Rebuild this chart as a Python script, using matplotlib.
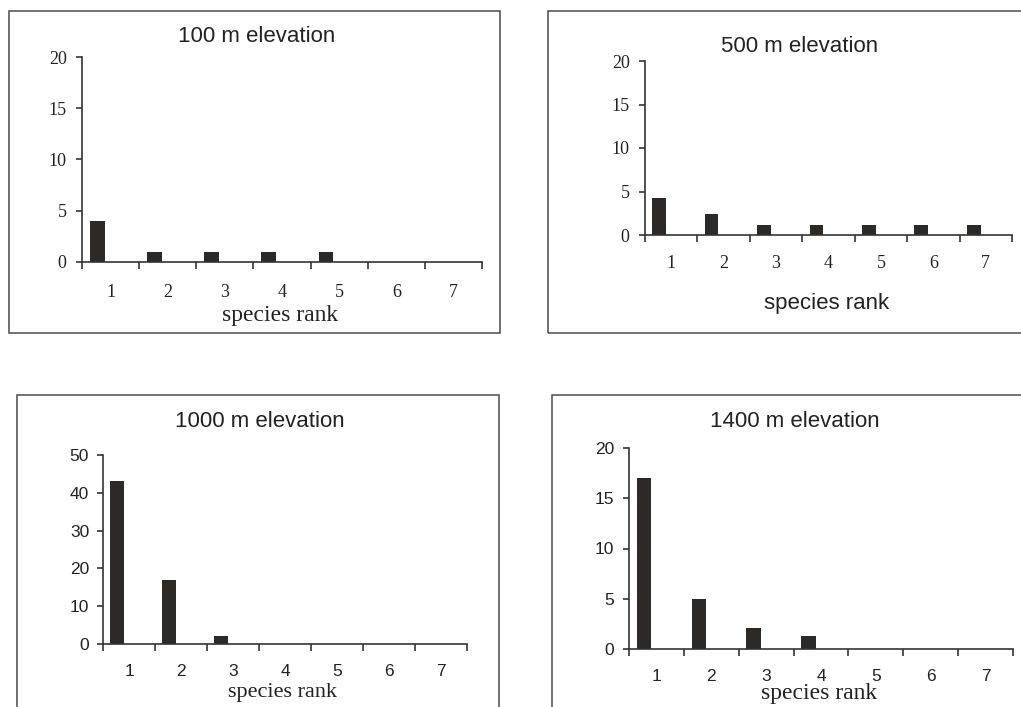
import matplotlib
matplotlib.use("Agg")
import matplotlib.pyplot as plt
from matplotlib.patches import Rectangle

W, H = 1021, 707

ranks = [1, 2, 3, 4, 5, 6, 7]
rank_labels = ["1", "2", "3", "4", "5", "6", "7"]
titles = ["100 m elevation", "500 m elevation", "1000 m elevation", "1400 m elevation"]
xlabel = "species rank"
abund_100 = [4, 1, 1, 1, 1, 0, 0]
abund_500 = [4.2, 2.4, 1.1, 1.1, 1.1, 1.1, 1.1]
abund_1000 = [43, 17, 2, 0, 0, 0, 0]
abund_1400 = [17, 5, 2.1, 1.3, 0, 0, 0]
yticks_small = [0, 5, 10, 15, 20]
yticks_big = [0, 10, 20, 30, 40, 50]

SERIF = "Liberation Serif"
SANS = "Liberation Sans"
BAR = "#2d2927"
INK = "#333333"

# layout in pixels
panels = [
    dict(vals=abund_100, title=titles[0], yt=yticks_small, ax=(82, 482, 262, 57),
         box=(9, 11, 500, 333), tpos=(257, 36), xlpos=(280, 316),
         tickfont=SERIF, tfs=13, xlfont=SERIF, xlfs=17, xpad=12, ypad=7),
    dict(vals=abund_500, title=titles[1], yt=yticks_small, ax=(645, 1012, 235, 61),
         box=(548, 11, 1040, 333), tpos=(800, 47), xlpos=(827, 303),
         tickfont=SERIF, tfs=13, xlfont=SANS, xlfs=16, xpad=10.5, ypad=7),
    dict(vals=abund_1000, title=titles[2], yt=yticks_big, ax=(103, 467, 644, 455),
         box=(17, 395, 499, 740), tpos=(260, 422), xlpos=(282, 693),
         tickfont=SANS, tfs=12.5, xlfont=SERIF, xlfs=16, xpad=11, ypad=6),
    dict(vals=abund_1400, title=titles[3], yt=yticks_small, ax=(629, 1013, 649, 448),
         box=(552, 395, 1040, 740), tpos=(795, 422), xlpos=(819, 693),
         tickfont=SANS, tfs=12.5, xlfont=SERIF, xlfs=17, xpad=10.5, ypad=6.5),
]

fig = plt.figure(figsize=(W / 100, H / 100), dpi=100)
fig.patch.set_facecolor("white")

def fx(x):
    return x / W

def fy(y):
    return 1 - y / H

for p in panels:
    bx0, by0, bx1, by1 = p["box"]
    fig.patches.append(Rectangle((fx(bx0), fy(by1)), fx(bx1) - fx(bx0), fy(by0) - fy(by1),
                                 transform=fig.transFigure, fill=False,
                                 edgecolor="#4a4a4a", linewidth=1.1))
    l, r, b, t = p["ax"]
    ax = fig.add_axes([fx(l), fy(b), fx(r) - fx(l), fy(t) - fy(b)])
    ax.patch.set_alpha(0)
    ax.bar([k - 0.23 for k in ranks], p["vals"], width=0.26, color=BAR, zorder=1)
    ax.set_xlim(0.5, 7.5)
    ax.set_ylim(0, p["yt"][-1])
    ax.set_yticks(p["yt"])
    ax.set_xticks([k + 0.5 for k in range(0, 8)])
    ax.set_xticklabels([])
    ax.set_xticks(ranks, minor=True)
    ax.set_xticklabels(rank_labels, minor=True)
    for s in ["top", "right"]:
        ax.spines[s].set_visible(False)
    for s in ["left", "bottom"]:
        ax.spines[s].set_color(INK)
        ax.spines[s].set_linewidth(1.2)
        ax.spines[s].set_zorder(3)
    ax.tick_params(axis="x", which="major", direction="out", length=5, width=1.2, color=INK)
    ax.tick_params(axis="x", which="minor", length=0, pad=p["xpad"] + 3.6,
                   labelsize=p["tfs"], labelcolor="#222222")
    ax.tick_params(axis="y", direction="out", length=4, width=1.2, color=INK,
                   pad=p["ypad"], labelsize=p["tfs"], labelcolor="#222222")
    for lab in ax.get_xticklabels(minor=True) + ax.get_yticklabels():
        lab.set_fontfamily(p["tickfont"])
    fig.text(fx(p["tpos"][0]), fy(p["tpos"][1]), p["title"], ha="center", va="center",
             fontsize=16, family=SANS, color="#222222")
    fig.text(fx(p["xlpos"][0]), fy(p["xlpos"][1]), xlabel, ha="center", va="center",
             fontsize=p["xlfs"], family=p["xlfont"], color="#222222")

fig.savefig("out.png", dpi=100, facecolor="white")
